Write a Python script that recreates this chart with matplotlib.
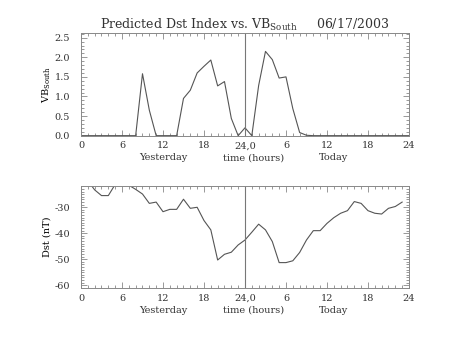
import matplotlib
matplotlib.use('Agg')
import numpy as np
import matplotlib.pyplot as plt
from matplotlib.ticker import MultipleLocator
import matplotlib.transforms as mtransforms

# hourly values, yesterday 00h through today 24h
hours_vb = np.arange(0, 49)
vb_south = [0, 0, 0, 0, 0, 0, 0, 0, 0, 1.58, 0.65, 0, 0, 0, 0,
            0.95, 1.16, 1.60, 1.77, 1.93, 1.27, 1.38, 0.44, 0.0, 0.2,
            0.0, 1.28, 2.15, 1.94, 1.47, 1.50, 0.69, 0.08, 0.01,
            0, 0, 0, 0, 0, 0, 0, 0, 0, 0, 0, 0, 0, 0, 0]

hours_dst = np.arange(0, 48)
dst = [-19.0, -19.8, -23.3, -25.5, -25.5, -21.2, -20.0, -21.5, -23.1, -24.9,
       -28.5, -28.0, -31.7, -30.8, -30.8, -26.9, -30.4, -30.0, -35.1, -38.7,
       -50.3, -48.1, -47.3, -44.5, -42.6, -39.6, -36.5, -38.7, -43.2, -51.3,
       -51.3, -50.6, -47.4, -42.6, -39.0, -39.0, -36.2, -34.0, -32.3, -31.3,
       -27.8, -28.5, -31.3, -32.3, -32.6, -30.4, -29.7, -28.0]

xticks = [0, 6, 12, 18, 24, 30, 36, 42, 48]
xticklabels = ['0', '6', '12', '18', '24,0', '6', '12', '18', '24']
day_labels = [(12, 'Yesterday'), (25.3, 'time (hours)'), (37, 'Today')]

FONT = 'DejaVu Serif'
TXT = '#333333'
AXC = '#888888'
LINE = '#555555'

plt.rcParams['font.family'] = FONT
plt.rcParams['mathtext.fontset'] = 'custom'
plt.rcParams['mathtext.rm'] = FONT
plt.rcParams['axes.unicode_minus'] = False
plt.rcParams['text.color'] = TXT
plt.rcParams['axes.edgecolor'] = AXC
plt.rcParams['xtick.color'] = AXC
plt.rcParams['ytick.color'] = AXC
plt.rcParams['xtick.labelcolor'] = TXT
plt.rcParams['ytick.labelcolor'] = TXT

fig = plt.figure(figsize=(4.53, 3.40), dpi=100)
ax1 = fig.add_axes([0.1788, 0.601, 0.724, 0.302])
ax2 = fig.add_axes([0.1788, 0.152, 0.724, 0.301])


def style(ax, ymajor, yminor):
    ax.set_xlim(0, 48)
    ax.set_xticks(xticks)
    ax.set_xticklabels(xticklabels, fontsize=7)
    ax.xaxis.set_minor_locator(MultipleLocator(1))
    ax.yaxis.set_major_locator(MultipleLocator(ymajor))
    ax.yaxis.set_minor_locator(MultipleLocator(yminor))
    ax.tick_params(which='both', direction='in', top=True, right=True,
                   width=0.6, labelsize=7)
    ax.tick_params(which='major', length=4)
    ax.tick_params(which='minor', length=2)
    ax.tick_params(axis='x', pad=4)
    ax.tick_params(axis='y', pad=8)
    for s in ax.spines.values():
        s.set_linewidth(0.7)
    ax.axvline(24, color='#777777', linewidth=0.8)
    trans = mtransforms.blended_transform_factory(ax.transData, ax.transAxes)
    for x, t in day_labels:
        ax.text(x, -0.215, t, transform=trans, ha='center', va='center',
                fontsize=7)


ax1.plot(hours_vb, vb_south, color=LINE, linewidth=0.8)
ax1.set_ylim(0, 2.62)
style(ax1, 0.5, 0.1)
ax1.set_yticks([0, 0.5, 1.0, 1.5, 2.0, 2.5])
ax1.set_yticklabels(['0.0', '0.5', '1.0', '1.5', '2.0', '2.5'])
ax1.set_ylabel(r'VB$_{\rm South}$', fontsize=7, labelpad=1)
ax1.set_title(r'Predicted Dst Index vs. VB$_{\rm South}$     06/17/2003',
              fontsize=9, pad=3)

ax2.plot(hours_dst, dst, color=LINE, linewidth=0.8)
ax2.set_ylim(-61.2, -21.8)
style(ax2, 10, 1)
ax2.set_ylabel('Dst (nT)', fontsize=7, labelpad=2)

plt.savefig('out.png', dpi=100)
